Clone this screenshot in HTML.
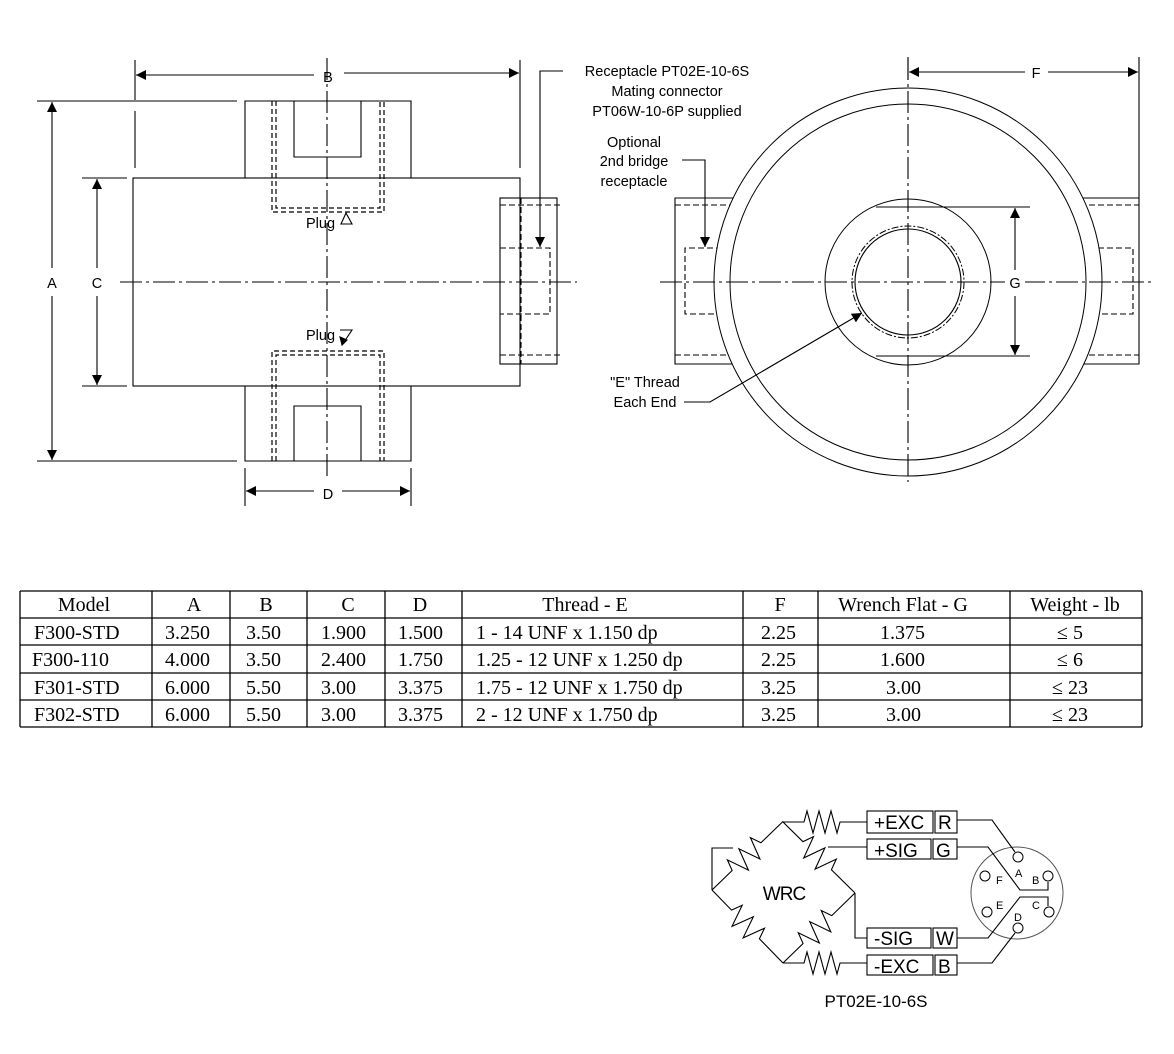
<!DOCTYPE html>
<html><head><meta charset="utf-8"><style>
html,body{margin:0;padding:0;background:#fff}
svg{display:block}
.s{font-family:"Liberation Sans",sans-serif;font-size:14.5px;fill:#000}
.t{font-family:"Liberation Serif",serif;font-size:20px;fill:#000}
</style></head><body>
<svg width="1174" height="1054" viewBox="0 0 1174 1054" xmlns="http://www.w3.org/2000/svg">
<defs>
<marker id="ar" viewBox="0 0 10 10" refX="10" refY="5" markerWidth="10" markerHeight="10" orient="auto-start-reverse" markerUnits="userSpaceOnUse"><path d="M0,0 L10,5 L0,10 z" fill="#000"/></marker>
<mask id="outc" maskUnits="userSpaceOnUse" x="0" y="0" width="1174" height="1054">
<rect x="0" y="0" width="1174" height="1054" fill="#fff"/>
<circle cx="908" cy="282" r="194" fill="#000"/>
</mask>
</defs>
<g stroke="#000" stroke-width="1.1" fill="none">
<!-- LEFT VIEW -->
<line x1="120" y1="282" x2="577" y2="282" stroke-dasharray="22,4,3,4"/>
<line x1="327" y1="58" x2="327" y2="476" stroke-dasharray="22,4,3,4"/>
<rect x="133" y="178" width="387" height="208"/>
<path d="M245,178 V101 H411 V178"/>
<path d="M294,101 V157 H361 V101"/>
<path d="M245,386 V461 H411 V386"/>
<path d="M294,461 V406 H361 V461"/>
<g stroke-dasharray="5,3" stroke-width="1.2">
<path d="M272,101 V212 H384 V101"/><path d="M276,101 V208 H380 V101"/>
<path d="M272,461 V351 H384 V461"/><path d="M276,461 V355 H380 V461"/>
</g>
<rect x="500" y="198" width="57" height="166"/>
<g stroke-dasharray="6,3">
<line x1="500" y1="205" x2="560" y2="205"/><line x1="500" y1="355" x2="560" y2="355"/>
<line x1="521" y1="198" x2="521" y2="364"/>
<path d="M500,248 H550 V314 H500"/>
</g>
<path d="M563,71 H540 V247" marker-end="url(#ar)"/>
<line x1="135" y1="60" x2="135" y2="100"/><line x1="135" y1="111" x2="135" y2="168"/>
<line x1="520" y1="60" x2="520" y2="168"/>
<line x1="136" y1="75" x2="314" y2="75" marker-start="url(#ar)"/>
<line x1="344" y1="73" x2="519" y2="73" marker-end="url(#ar)"/>
<line x1="37" y1="101" x2="237" y2="101"/><line x1="37" y1="461" x2="237" y2="461"/>
<line x1="52" y1="102" x2="52" y2="268" marker-start="url(#ar)"/>
<line x1="52" y1="296" x2="52" y2="460" marker-end="url(#ar)"/>
<line x1="82" y1="178" x2="127" y2="178"/><line x1="82" y1="386" x2="127" y2="386"/>
<line x1="97" y1="179" x2="97" y2="268" marker-start="url(#ar)"/>
<line x1="97" y1="296" x2="97" y2="385" marker-end="url(#ar)"/>
<line x1="245" y1="468" x2="245" y2="506"/><line x1="411" y1="468" x2="411" y2="506"/>
<line x1="246" y1="491" x2="314" y2="491" marker-start="url(#ar)"/>
<line x1="342" y1="491" x2="410" y2="491" marker-end="url(#ar)"/>
<path d="M352,224 L341,224 L346,213 Z"/>
<path d="M340,330 L352,330 L342,345"/>
<path d="M342,345 l-2,-8 l7,3 z" fill="#000"/>

<!-- RIGHT VIEW -->
<line x1="660" y1="282" x2="1152" y2="282" stroke-dasharray="22,4,3,4"/>
<line x1="908" y1="58" x2="908" y2="482" stroke-dasharray="22,4,3,4"/>
<g mask="url(#outc)">
<path d="M740,198 H675 V364 H740"/>
<path d="M1080,198 H1139 V364 H1080"/>
<g stroke-dasharray="6,3">
<line x1="675" y1="205" x2="740" y2="205"/><line x1="675" y1="355" x2="740" y2="355"/>
<path d="M740,248 H685 V314 H740"/>
<line x1="1080" y1="205" x2="1139" y2="205"/><line x1="1080" y1="355" x2="1139" y2="355"/>
<path d="M1080,248 H1133 V314 H1080"/>
</g>
</g>
<circle cx="908" cy="282" r="194" stroke-width="1"/>
<circle cx="908" cy="282" r="178" stroke-width="1"/>
<circle cx="908" cy="282" r="83" stroke-width="1"/>
<circle cx="908" cy="282" r="53"/>
<circle cx="908" cy="282" r="56" stroke-dasharray="7,2,2,2" stroke-width="1"/>
<line x1="876" y1="207" x2="1030" y2="207"/><line x1="876" y1="356" x2="1030" y2="356"/>
<rect x="1005" y="272" width="20" height="22" fill="#fff" stroke="none"/>
<line x1="1015" y1="208" x2="1015" y2="270" marker-start="url(#ar)"/>
<line x1="1015" y1="296" x2="1015" y2="355" marker-end="url(#ar)"/>
<line x1="908" y1="57" x2="908" y2="80"/>
<line x1="1139" y1="57" x2="1139" y2="198"/>
<line x1="909" y1="72" x2="1025" y2="72" marker-start="url(#ar)"/>
<line x1="1048" y1="72" x2="1138" y2="72" marker-end="url(#ar)"/>
<path d="M682,160 H705 V247" marker-end="url(#ar)"/>
<path d="M684,402 H710 L862,313" marker-end="url(#ar)"/>

<!-- TABLE -->
<g stroke-width="1.3">
<line x1="20" y1="591" x2="1142" y2="591"/>
<line x1="20" y1="618" x2="1142" y2="618"/>
<line x1="20" y1="645" x2="1142" y2="645"/>
<line x1="20" y1="673" x2="1142" y2="673"/>
<line x1="20" y1="700" x2="1142" y2="700"/>
<line x1="20" y1="727" x2="1142" y2="727"/>
<line x1="20" y1="591" x2="20" y2="727"/>
<line x1="152" y1="591" x2="152" y2="727"/>
<line x1="230" y1="591" x2="230" y2="727"/>
<line x1="307" y1="591" x2="307" y2="727"/>
<line x1="385" y1="591" x2="385" y2="727"/>
<line x1="462" y1="591" x2="462" y2="727"/>
<line x1="743" y1="591" x2="743" y2="727"/>
<line x1="818" y1="591" x2="818" y2="727"/>
<line x1="1010" y1="591" x2="1010" y2="727"/>
<line x1="1142" y1="591" x2="1142" y2="727"/>
</g>

<!-- WIRING -->
<rect x="867" y="811" width="66" height="22"/><rect x="935" y="811" width="22" height="22"/>
<rect x="867" y="839" width="64" height="20"/><rect x="933" y="839" width="24" height="20"/>
<rect x="867" y="928" width="64" height="20"/><rect x="933" y="928" width="24" height="20"/>
<rect x="867" y="955" width="66" height="20"/><rect x="935" y="955" width="22" height="20"/>
<circle cx="1017" cy="893" r="46" stroke="#555" stroke-width="1"/>
<g stroke-width="1">
<circle cx="1018" cy="857" r="5"/><circle cx="1048" cy="876" r="5"/>
<circle cx="1049" cy="912" r="5"/><circle cx="1018" cy="928" r="5"/>
<circle cx="987" cy="912" r="5"/><circle cx="985" cy="876" r="5"/>
</g>
<polyline points="957,820 992,820 1015,852"/>
<polyline points="957,847 988,847 1020,890 1048,890 1048,882"/>
<polyline points="957,938 988,938 1020,897 1048,897 1048,906"/>
<polyline points="957,963 992,963 1015,933"/>
<g transform="translate(712,890) rotate(-44)"><path d="M0,0 L28,0 l4,-11 l8,22 l8,-22 l8,22 l8,-22 l4,11 L99,0"/></g>
<g transform="translate(783,822) rotate(44.6)"><path d="M0,0 L28,0 l4,-11 l8,22 l8,-22 l8,22 l8,-22 l4,11 L101,0"/></g>
<g transform="translate(712,890) rotate(45.8)"><path d="M0,0 L28,0 l4,-11 l8,22 l8,-22 l8,22 l8,-22 l4,11 L102,0"/></g>
<g transform="translate(783,963) rotate(-44.2)"><path d="M0,0 L28,0 l4,-11 l8,22 l8,-22 l8,22 l8,-22 l4,11 L100,0"/></g>
<path d="M783,822 H804 l3,-11 l6,22 l6,-22 l6,22 l6,-22 l6,22 l3,-11 H867"/>
<path d="M783,963 H804 l3,-11 l6,22 l6,-22 l6,22 l6,-22 l6,22 l3,-11 H867"/>
<polyline points="712,890 712,848 733,848"/>
<line x1="828" y1="847" x2="867" y2="847"/>
<polyline points="855,893 855,938 867,938"/>
</g>

<!-- TEXT -->
<g class="s">
<text x="328" y="82" text-anchor="middle">B</text>
<text x="52" y="288" text-anchor="middle">A</text>
<text x="97" y="288" text-anchor="middle">C</text>
<text x="328" y="499" text-anchor="middle">D</text>
<text x="306" y="228">Plug</text>
<text x="306" y="340">Plug</text>
<text x="667" y="76" text-anchor="middle">Receptacle PT02E-10-6S</text>
<text x="667" y="96" text-anchor="middle">Mating connector</text>
<text x="667" y="116" text-anchor="middle">PT06W-10-6P supplied</text>
<text x="634" y="147" text-anchor="middle">Optional</text>
<text x="634" y="166" text-anchor="middle">2nd bridge</text>
<text x="634" y="186" text-anchor="middle">receptacle</text>
<text x="645" y="387" text-anchor="middle">"E" Thread</text>
<text x="645" y="407" text-anchor="middle">Each End</text>
<text x="1036" y="78" text-anchor="middle">F</text>
<text x="1015" y="288" text-anchor="middle">G</text>
</g>
<g class="s" style="font-size:19px">
<text x="874" y="829">+EXC</text><text x="938" y="829">R</text>
<text x="874" y="857">+SIG</text><text x="936" y="857">G</text>
<text x="874" y="945">-SIG</text><text x="936" y="945">W</text>
<text x="874" y="973">-EXC</text><text x="938" y="973">B</text>
<text x="784" y="900" text-anchor="middle" style="letter-spacing:-1px">WRC</text>
<text x="876" y="1007" text-anchor="middle" style="font-size:17px">PT02E-10-6S</text>
</g>
<g class="s" style="font-size:11px">
<text x="1015" y="877">A</text><text x="1032" y="884">B</text>
<text x="1032" y="909">C</text><text x="1014" y="921">D</text>
<text x="996" y="909">E</text><text x="996" y="884">F</text>
</g>
<g class="t">
<text x="84" y="611" text-anchor="middle">Model</text>
<text x="194" y="611" text-anchor="middle">A</text>
<text x="266" y="611" text-anchor="middle">B</text>
<text x="348" y="611" text-anchor="middle">C</text>
<text x="420" y="611" text-anchor="middle">D</text>
<text x="585" y="611" text-anchor="middle">Thread - E</text>
<text x="780" y="611" text-anchor="middle">F</text>
<text x="903" y="611" text-anchor="middle">Wrench Flat - G</text>
<text x="1075" y="611" text-anchor="middle">Weight - lb</text>

<text x="34" y="639">F300-STD</text><text x="165" y="639">3.250</text><text x="246" y="639">3.50</text><text x="321" y="639">1.900</text><text x="398" y="639">1.500</text><text x="476" y="639">1 - 14 UNF x 1.150 dp</text><text x="761" y="639">2.25</text><text x="880" y="639">1.375</text><text x="1057" y="639">≤ 5</text>
<text x="32" y="666">F300-110</text><text x="165" y="666">4.000</text><text x="246" y="666">3.50</text><text x="321" y="666">2.400</text><text x="398" y="666">1.750</text><text x="476" y="666">1.25 - 12 UNF x 1.250 dp</text><text x="761" y="666">2.25</text><text x="880" y="666">1.600</text><text x="1057" y="666">≤ 6</text>
<text x="34" y="694">F301-STD</text><text x="165" y="694">6.000</text><text x="246" y="694">5.50</text><text x="321" y="694">3.00</text><text x="398" y="694">3.375</text><text x="476" y="694">1.75 - 12 UNF x 1.750 dp</text><text x="761" y="694">3.25</text><text x="886" y="694">3.00</text><text x="1052" y="694">≤ 23</text>
<text x="34" y="721">F302-STD</text><text x="165" y="721">6.000</text><text x="246" y="721">5.50</text><text x="321" y="721">3.00</text><text x="398" y="721">3.375</text><text x="476" y="721">2 - 12 UNF x 1.750 dp</text><text x="761" y="721">3.25</text><text x="886" y="721">3.00</text><text x="1052" y="721">≤ 23</text>
</g>
</svg>
</body></html>
